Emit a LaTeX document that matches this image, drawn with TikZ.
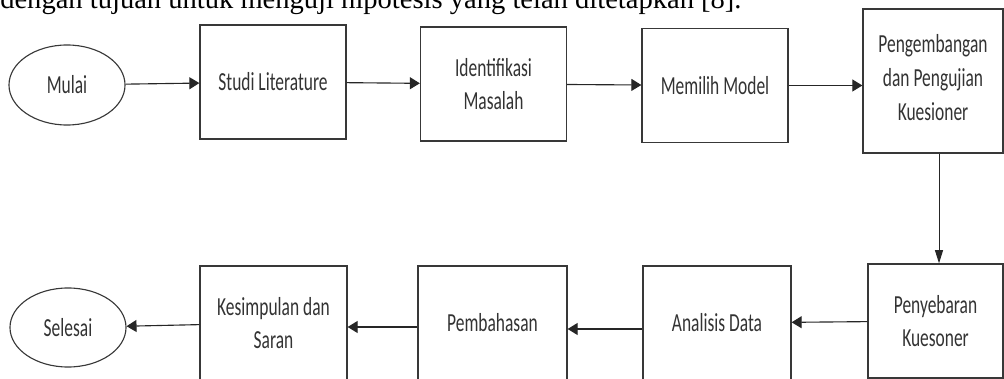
\documentclass[tikz,border=0pt]{standalone}
\usepackage{fontspec}
\setmainfont{Liberation Serif}
\newfontfamily\boxfont[FakeStretch=0.67]{Carlito}
\usetikzlibrary{positioning, arrows.meta, shapes.geometric}

\begin{document}
\begin{tikzpicture}[
  x=0.025cm, y=-0.025cm,
  stepbox/.style={draw=black!78, line width=0.9pt, align=center, text=black!80, inner sep=0pt,
    font=\boxfont\fontsize{18.5}{24}\selectfont, minimum width=3.65cm, minimum height=2.85cm},
  terminal/.style={ellipse, draw=black!78, line width=0.8pt, text=black!80, inner sep=0pt,
    font=\boxfont\fontsize{18.5}{24}\selectfont, minimum width=2.9cm, minimum height=2cm},
  arrow/.style={-{Triangle[length=2.5mm, width=3mm]}, line width=0.8pt, black!85},
  arrowdown/.style={-{Triangle[length=3.3mm, width=2mm]}, line width=0.7pt, black!85}
]
\useasboundingbox (0,0) rectangle (1004,379);

% Cut-off line of the running text above the figure
\node[anchor=base west, inner sep=0pt, font=\fontsize{20.3}{24}\selectfont] (caption) at (0,9)
  {dengan tujuan untuk menguji hipotesis yang telah ditetapkan [8].};

% Top row (left to right)
\node[terminal] (mulai) at (67,85) {Mulai};
\node[stepbox] (studi) at (273,82) {Studi Literature};
\node[stepbox] (identifikasi) at (493.5,84) {Identifikasi\\Masalah};
\node[stepbox] (model) at (715,85.5) {Memilih Model};
\node[stepbox, minimum width=3.5cm, minimum height=3.6cm] (kuesioner) at (933,81)
  {\\[-16pt]Pengembangan\\dan Pengujian\\Kuesioner};

% Bottom row (right to left)
\node[stepbox, minimum width=3.375cm] (penyebaran) at (935.5,321) {Penyebaran\\Kuesoner};
\node[stepbox, minimum width=3.7cm] (analisis) at (717,323) {Analisis Data};
\node[stepbox, minimum width=3.725cm] (pembahasan) at (492.5,323) {Pembahasan};
\node[stepbox, minimum width=3.675cm] (kesimpulan) at (273.5,323) {Kesimpulan dan\\Saran};
\node[terminal, minimum width=2.9cm, minimum height=1.975cm] (selesai) at (68,327.5) {Selesai};

% Flow along the top row
\draw[arrow] (mulai) -- (studi);
\draw[arrow] (studi) -- (identifikasi);
\draw[arrow] (identifikasi) -- (model);
\draw[arrow] (model) -- (model -| kuesioner.west);

% Down to the bottom row
\draw[arrowdown] ([xshift=1.5mm]kuesioner.south) -- ([xshift=1.5mm]kuesioner.south |- penyebaran.north);

% Flow back along the bottom row
\draw[arrow] (penyebaran) -- (analisis);
\draw[arrow] ([yshift=-1.5mm]analisis.west) -- ([yshift=-1.5mm]analisis.west -| pembahasan.east);
\draw[arrow] ([yshift=-1mm]pembahasan.west) -- ([yshift=-1mm]pembahasan.west -| kesimpulan.east);
\draw[arrow] (kesimpulan) -- (selesai);

\end{tikzpicture}
\end{document}
